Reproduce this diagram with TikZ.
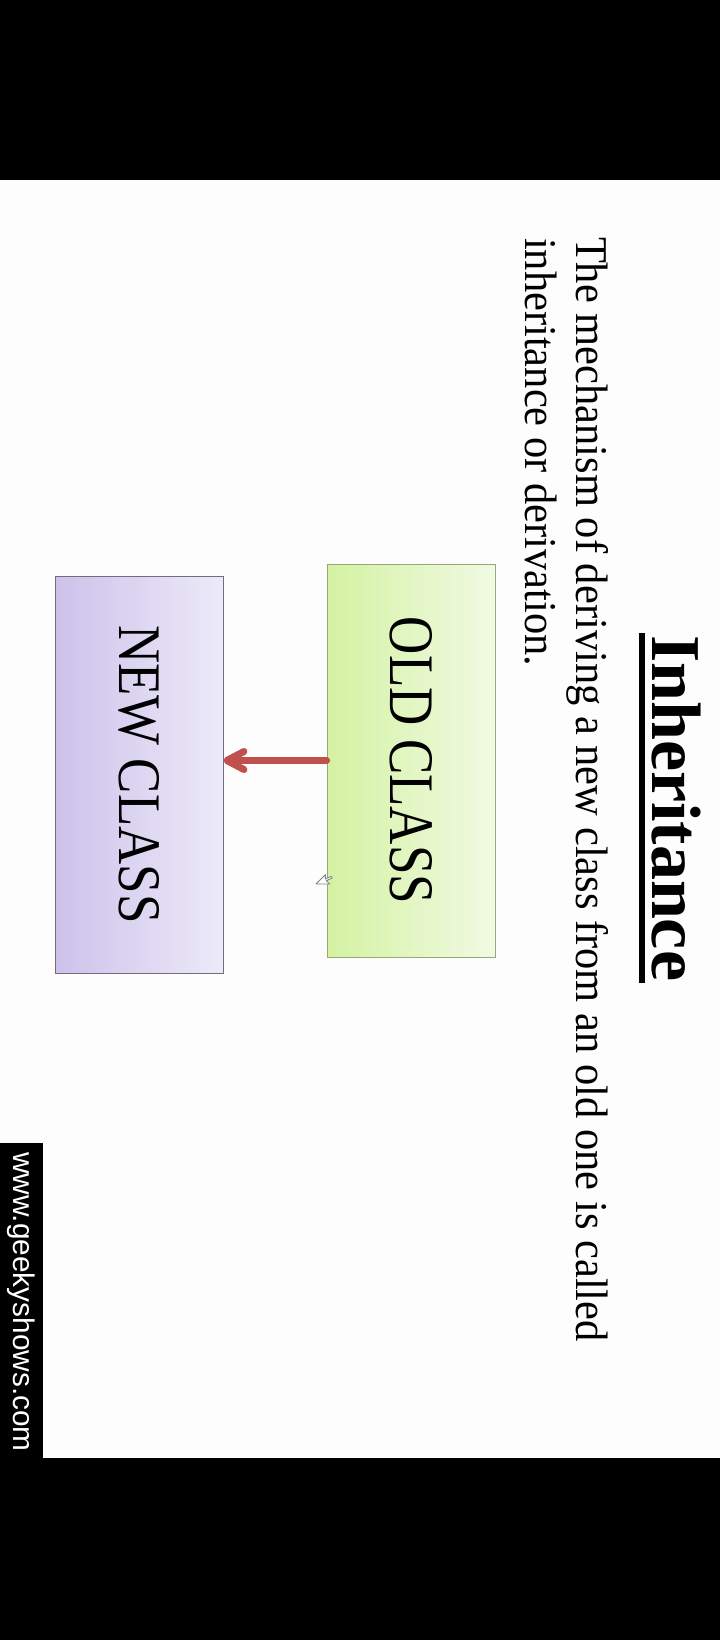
\documentclass[tikz,border=0pt]{standalone}
\usepackage{fontspec}
\setmainfont{Liberation Serif}
\newfontfamily\wmfont{Liberation Sans}
\usetikzlibrary{arrows.meta}
\definecolor{oldL}{RGB}{212,242,162}
\definecolor{oldR}{RGB}{241,250,228}
\definecolor{oldB}{RGB}{150,168,118}
\definecolor{newL}{RGB}{204,194,235}
\definecolor{newR}{RGB}{237,234,248}
\definecolor{newB}{RGB}{110,110,125}
\definecolor{arrowc}{RGB}{192,80,77}
\definecolor{slidebg}{RGB}{253,253,253}
\begin{document}
\begin{tikzpicture}[x=1pt,y=-1pt,
  txt/.style={inner sep=0pt, outer sep=0pt, rotate=-90, anchor=base west},
  classbox/.style={draw, line width=0.8pt, minimum width=168pt, inner sep=0pt},
  inherit/.style={draw=arrowc, line width=7pt, line cap=round,
    -{Straight Barb[length=17pt,width=18pt,line cap=round,line join=round]}}]
\useasboundingbox (0,0) rectangle (720,1640);
\fill[slidebg] (0,0) rectangle (720,1640);
\fill[black] (0,0) rectangle (720,180);
\fill[black] (0,1458) rectangle (720,1640);
% watermark
\fill[black] (0,1143) rectangle (43,1458);
\node[txt, text=white, font=\wmfont\fontsize{29.8pt}{30pt}\selectfont] (wm) at (13,1152) {www.geekyshows.com};
% title
\node[txt, font=\bfseries\fontsize{70pt}{70pt}\selectfont] (title) at (652,635) {Inheritance};
\draw[line width=6pt] ([xshift=-10pt,yshift=2pt]title.base west) -- ([xshift=-10pt,yshift=-2pt]title.base east);
% body
\node[txt, font=\fontsize{42.5pt}{51pt}\selectfont] (l1) at (576,237) {\scalebox{1}[1.07]{The mechanism of deriving a new class from an old one is called}};
\node[txt, font=\fontsize{42.5pt}{51pt}\selectfont] (l2) at (525,238) {\scalebox{1}[1.07]{inheritance or derivation.}};
% boxes
\node[classbox, minimum height=393pt, left color=oldL, right color=oldR, draw=oldB] (old) at (411,760.5)
  {\rotatebox{-90}{\resizebox{287pt}{42pt}{OLD CLASS}}};
\node[classbox, minimum height=397pt, left color=newL, right color=newR, draw=newB] (new) at (139,774.5)
  {\rotatebox{-90}{\resizebox{298pt}{40pt}{NEW CLASS}}};
% arrow
\draw[inherit] (old.west) -- (old.west -| new.east);
% mouse cursor
\begin{scope}[shift={(316,884)}, rotate=90, scale=0.85]
  \filldraw[fill=white, draw=gray, line width=0.8pt, line join=round]
    (0,0) -- (0,16) -- (4,12) -- (7,19) -- (9,18) -- (6,11) -- (11,11) -- cycle;
\end{scope}
\end{tikzpicture}
\end{document}
